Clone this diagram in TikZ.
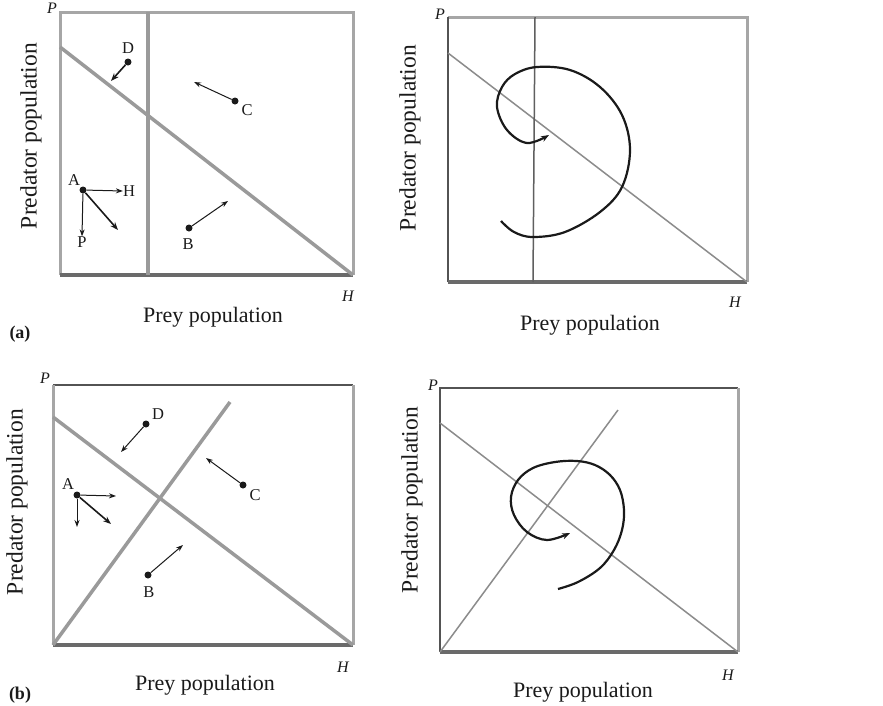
\documentclass[tikz,border=0pt]{standalone}
\usepackage{fontspec}
\setmainfont{Liberation Serif}
\usetikzlibrary{arrows.meta}
\definecolor{ink}{HTML}{1A1A1A}
\definecolor{rimgray}{HTML}{A6A6A6}
\definecolor{floorgray}{HTML}{6A6A6A}
\definecolor{isogray}{HTML}{9A9A9A}
\definecolor{thingray}{HTML}{8C8C8C}
\tikzset{
  >={Stealth[length=8pt,width=6pt]},
  every node/.style={text=ink,inner sep=0pt},
  rim/.style={draw=rimgray,line width=3pt},
  rimthin/.style={draw=ink!75,line width=1.2pt},
  floor/.style={draw=floorgray,line width=4.5pt},
  iso/.style={draw=isogray,line width=3.5pt},
  isothin/.style={draw=thingray,line width=1.5pt},
  orbit/.style={->,draw=ink,line width=2.2pt},
  dot/.style={circle,fill=ink,minimum size=7pt},
  vec/.style={->,draw=ink,line width=1.6pt},
  vecthin/.style={->,draw=ink,line width=1pt,>={Stealth[length=7pt,width=5pt]}},
  ptlabel/.style={font=\fontsize{16.5}{16.5}\selectfont},
  corner/.style={font=\fontsize{16}{16}\selectfont\itshape},
  axis/.style={font=\fontsize{22}{22}\selectfont},
  yaxis/.style={font=\fontsize{23.5}{23.5}\selectfont,rotate=90},
  tag/.style={font=\fontsize{18}{18}\selectfont\bfseries}
}
\begin{document}
\begin{tikzpicture}[x=1pt,y=-1pt]
  \fill[white] (0,0) rectangle (883,705);
  \useasboundingbox (0,0) rectangle (883,705);

  % (a) left: vertical prey isocline, falling predator isocline
  \coordinate (a1tl) at (60,12);  \coordinate (a1tr) at (353,12);
  \coordinate (a1bl) at (60,275); \coordinate (a1br) at (353,275);
  \coordinate (a1p) at (60,47); \coordinate (a1vt) at (148,12); \coordinate (a1vb) at (148,275);
  \draw[rim] (a1bl) -- (a1tl) -- (a1tr) -- (a1br);
  \draw[floor] (a1bl) -- (a1br);
  \draw[iso] (a1p) -- (a1br);
  \draw[iso] (a1vt) -- (a1vb);
  \node[corner] (a1P) at (52,8) {P};
  \node[corner] (a1H) at (348,296) {H};

  \node[dot] (a1D) at (128,62) {};  \node[ptlabel] (a1Dl) at (128,48) {D};
  \node[dot] (a1C) at (235,101) {}; \node[ptlabel] (a1Cl) at (247,110) {C};
  \node[dot] (a1B) at (189,228) {}; \node[ptlabel] (a1Bl) at (188,244) {B};
  \node[dot] (a1A) at (83,190) {};  \node[ptlabel] (a1Al) at (74,180) {A};
  \node[ptlabel] (a1Ah) at (129,191) {H};
  \node[ptlabel] (a1Ap) at (82,242) {P};
  \coordinate (a1De) at (111,81); \coordinate (a1Ce) at (194,82); \coordinate (a1Be) at (228,201);
  \coordinate (a1Ad) at (118,230);
  \draw[vec] (a1D) -- (a1De);
  \draw[vecthin] (a1C) -- (a1Ce);
  \draw[vecthin] (a1B) -- (a1Be);
  \draw[vecthin] (a1A) -- (a1Ah.west);
  \draw[vecthin] (a1A) -- (a1Ap.north);
  \draw[vec] (a1A) -- (a1Ad);

  % (a) right: trajectory spiralling inwards
  \coordinate (a2tl) at (448,17);  \coordinate (a2tr) at (747,17);
  \coordinate (a2bl) at (448,282); \coordinate (a2br) at (747,282);
  \coordinate (a2p) at (448,53); \coordinate (a2vt) at (535,17); \coordinate (a2vb) at (533,282);
  \draw[rim] (a2tl) -- (a2tr) -- (a2br);
  \draw[rimthin] (a2bl) -- (a2tl);
  \draw[floor] (a2bl) -- (a2br);
  \draw[isothin] (a2p) -- (a2br);
  \draw[isothin,draw=ink!70] (a2vt) -- (a2vb);
  \node[corner] (a2P) at (440,14) {P};
  \node[corner] (a2H) at (735,302) {H};
  \draw[orbit] plot[smooth,tension=0.6] coordinates {(501,221) (514,232) (533,237) (565,232) (600,212) (622,187) (630,150) (622,115) (600,87) (570,70) (537,67) (515,74) (502,87) (497,107) (507,130) (527,143) (549,135)};

  % (b) left: rising prey isocline
  \coordinate (b1tl) at (53,385);  \coordinate (b1tr) at (353,385);
  \coordinate (b1bl) at (53,645);  \coordinate (b1br) at (353,645);
  \coordinate (b1p) at (53,417); \coordinate (b1q) at (230,402);
  \draw[rimthin] (b1tl) -- (b1tr);
  \draw[rim] (b1tl) -- (b1bl) (b1tr) -- (b1br);
  \draw[floor] (b1bl) -- (b1br);
  \draw[iso] (b1p) -- (b1br);
  \draw[iso] (b1bl) -- (b1q);
  \node[corner] (b1P) at (45,378) {P};
  \node[corner] (b1H) at (343,667) {H};

  \node[dot] (b1D) at (146,424) {}; \node[ptlabel] (b1Dl) at (158,414) {D};
  \node[dot] (b1C) at (243,485) {}; \node[ptlabel] (b1Cl) at (255,495) {C};
  \node[dot] (b1B) at (148,575) {}; \node[ptlabel] (b1Bl) at (149,592) {B};
  \node[dot] (b1A) at (77,495) {};  \node[ptlabel] (b1Al) at (68,484) {A};
  \coordinate (b1De) at (121,452); \coordinate (b1Ce) at (206,458); \coordinate (b1Be) at (183,545);
  \coordinate (b1Ar) at (116,496); \coordinate (b1Ap) at (77,527); \coordinate (b1Ad) at (111,524);
  \draw[vecthin] (b1D) -- (b1De);
  \draw[vecthin] (b1C) -- (b1Ce);
  \draw[vecthin] (b1B) -- (b1Be);
  \draw[vecthin] (b1A) -- (b1Ar);
  \draw[vecthin] (b1A) -- (b1Ap);
  \draw[vec] (b1A) -- (b1Ad);

  % (b) right
  \coordinate (b2tl) at (440,388);  \coordinate (b2tr) at (738,388);
  \coordinate (b2bl) at (440,652);  \coordinate (b2br) at (738,652);
  \coordinate (b2p) at (440,423); \coordinate (b2q) at (618,410);
  \draw[rimthin] (b2bl) -- (b2tl) -- (b2tr);
  \draw[rim] (b2tr) -- (b2br);
  \draw[floor] (b2bl) -- (b2br);
  \draw[isothin] (b2p) -- (b2br);
  \draw[isothin] (b2bl) -- (b2q);
  \node[corner] (b2P) at (433,385) {P};
  \node[corner] (b2H) at (728,675) {H};
  \draw[orbit] plot[smooth,tension=0.6] coordinates {(558,589) (578,582) (600,568) (614,550) (622,530) (624,510) (620,490) (610,475) (595,465) (577,461) (555,462) (533,468) (518,480) (511,497) (514,515) (527,532) (547,540) (570,533)};

  % axis titles
  \foreach \n/\x/\y in {a1/213/322, a2/590/330, b1/205/690, b2/583/697}
    \node[axis,anchor=base] (\n xlab) at (\x,\y) {Prey population};
  \foreach \n/\x/\y in {a1/31/136, a2/410/138, b1/17/502, b2/412/500}
    \node[yaxis] (\n ylab) at (\x,\y) {Predator population};
  \node[tag] (taga) at (20,334) {(a)};
  \node[tag] (tagb) at (20,695) {(b)};
\end{tikzpicture}
\end{document}
